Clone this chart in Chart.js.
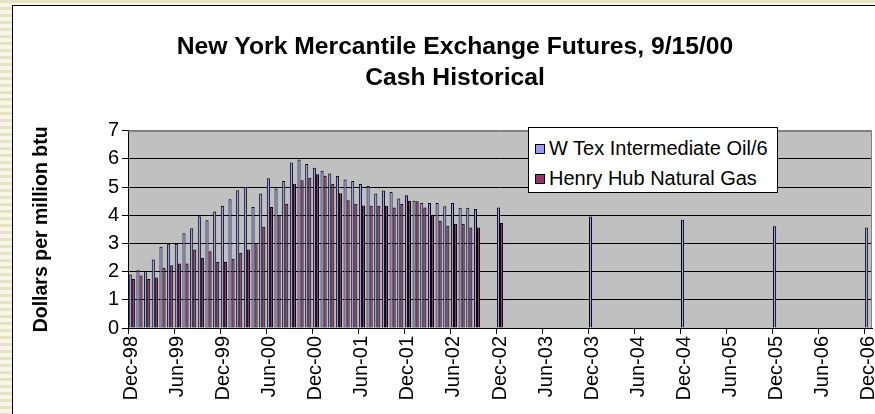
<!DOCTYPE html>
<html>
<head>
<meta charset="utf-8">
<script src="https://cdn.jsdelivr.net/npm/chart.js@4.4.0/dist/chart.umd.min.js"></script>
<style>
  html, body { overflow: hidden; }
  body {
    margin: 0;
    width: 875px;
    height: 414px;
    position: relative;
    background: repeating-linear-gradient(180deg, #e6e2c4 0px, #e6e2c4 3px, #f7f5e8 3px, #f7f5e8 7px);
    font-family: "Liberation Sans", Arial, sans-serif;
  }
  #frame {
    position: absolute;
    left: 12px;
    top: 5px;
    width: 1000px;
    height: 500px;
    border: 1px solid #000;
    background: #fff;
  }
  #wrap {
    position: absolute;
    left: 0;
    top: 0;
    width: 875px;
    height: 414px;
  }
  #legend {
    position: absolute;
    left: 528px;
    top: 127px;
    width: 248px;
    height: 64px;
    border: 1px solid #000;
    background: #fff;
    font-size: 20px;
    color: #000;
  }
  #legend div {
    position: absolute;
    left: 6px;
    height: 24px;
    line-height: 24px;
    white-space: nowrap;
  }
  #legend span {
    display: inline-block;
    width: 8px;
    height: 8px;
    border: 1px solid #000;
    margin-right: 4px;
    vertical-align: 1px;
  }
</style>
</head>
<body>
<div id="frame"></div>
<div id="wrap"><canvas id="myChart" width="875" height="414"></canvas></div>
<div id="legend"></div>
<script>
// monthly categories Dec-98 .. Dec-06
var monthNames = ['Jan', 'Feb', 'Mar', 'Apr', 'May', 'Jun', 'Jul', 'Aug', 'Sep', 'Oct', 'Nov', 'Dec'];
var labels = [];
for (var k = 0; k <= 96; k++) {
    var m = (11 + k) % 12;
    var y = 98 + Math.floor((11 + k) / 12);
    labels.push(monthNames[m] + '-' + String(y % 100).padStart(2, '0'));
}

// monthly cash history, Dec-98 .. Sep-02
var oilMonthly = [1.90, 2.05, 2.02, 2.43, 2.88, 2.99, 2.99, 3.36, 3.54, 3.97, 3.82, 4.13,
    4.33, 4.57, 4.89, 5.01, 4.29, 4.77, 5.31, 4.95, 5.22, 5.87, 5.98, 5.82,
    5.69, 5.58, 5.48, 5.39, 5.27, 5.22, 5.11, 5.04, 4.77, 4.88, 4.83, 4.60,
    4.71, 4.52, 4.44, 4.44, 4.44, 4.32, 4.44, 4.27, 4.27, 4.22];
var gasMonthly = [1.74, 1.86, 1.74, 1.79, 2.14, 2.23, 2.29, 2.29, 2.79, 2.49, 2.72, 2.34,
    2.34, 2.46, 2.67, 2.79, 3.02, 3.59, 4.29, 4.00, 4.41, 5.12, 5.24, 5.33,
    5.46, 5.40, 5.12, 4.78, 4.53, 4.41, 4.35, 4.34, 4.34, 4.34, 4.28, 4.40,
    4.52, 4.50, 4.28, 4.02, 3.81, 3.63, 3.70, 3.70, 3.57, 3.57];

// December futures
var futureMonths = ['Dec-02', 'Dec-03', 'Dec-04', 'Dec-05', 'Dec-06'];
var oilFutures = [4.28, 3.96, 3.84, 3.61, 3.57];
var gasFutures = [3.73, null, null, null, null];

var yTicks = [0, 1, 2, 3, 4, 5, 6, 7];

function buildSeries(monthly, futures) {
    var out = labels.map(function () { return null; });
    monthly.forEach(function (v, i) { out[i] = v; });
    futureMonths.forEach(function (lab, i) { out[labels.indexOf(lab)] = futures[i]; });
    return out;
}

var plotBg = {
    id: 'plotBg',
    beforeDraw: function (chart) {
        var a = chart.chartArea, c = chart.ctx;
        c.save();
        c.fillStyle = '#c0c0c0';
        c.fillRect(a.left, a.top, a.right - a.left, a.bottom - a.top);
        c.restore();
    },
    afterDraw: function (chart) {
        var a = chart.chartArea, c = chart.ctx;
        c.save();
        c.strokeStyle = '#808080';
        c.lineWidth = 1;
        c.beginPath();
        c.moveTo(a.left, Math.round(a.top) + 0.5);
        c.lineTo(Math.round(a.right) - 0.5, Math.round(a.top) + 0.5);
        c.lineTo(Math.round(a.right) - 0.5, a.bottom);
        c.stroke();
        c.restore();
    }
};

var ctx = document.getElementById('myChart').getContext('2d');
var myChart = new Chart(ctx, {
    type: 'bar',
    data: {
        labels: labels,
        datasets: [{
            label: 'W Tex Intermediate Oil/6',
            data: buildSeries(oilMonthly, oilFutures),
            backgroundColor: '#9999ff',
            borderColor: '#000000',
            borderWidth: 1
        }, {
            label: 'Henry Hub Natural Gas',
            data: buildSeries(gasMonthly, gasFutures),
            backgroundColor: '#993366',
            borderColor: '#000000',
            borderWidth: 1
        }]
    },
    plugins: [plotBg],
    options: {
        responsive: false,
        animation: false,
        layout: { padding: { left: 38, right: 3, top: 0, bottom: 0 } },
        datasets: {
            bar: { categoryPercentage: 0.8, barPercentage: 1.0 }
        },
        plugins: {
            legend: { display: false },
            tooltip: { enabled: false },
            title: {
                display: true,
                text: ['New York Mercantile Exchange Futures, 9/15/00', 'Cash Historical'],
                color: '#000',
                font: { family: 'Liberation Sans', size: 24.7, weight: 'bold', lineHeight: 1.25 },
                padding: { top: 32, bottom: 37 }
            }
        },
        scales: {
            x: {
                offset: true,
                grid: {
                    offset: true,
                    drawOnChartArea: false,
                    drawTicks: true,
                    tickLength: 6,
                    color: function (c) { return c.index % 6 === 0 ? '#000' : 'rgba(0,0,0,0)'; }
                },
                border: { color: '#000' },
                ticks: {
                    autoSkip: false,
                    minRotation: 90,
                    maxRotation: 90,
                    padding: 2,
                    color: '#000',
                    font: { family: 'Liberation Sans', size: 20 },
                    callback: function (val, i) { return i % 6 === 0 ? labels[i] : ''; }
                },
                afterFit: function (s) {
                    s.height = 86;
                    s.paddingLeft = 0;
                    s.paddingRight = 0;
                }
            },
            y: {
                min: 0,
                max: 7,
                grid: {
                    color: function (c) { return c.tick && c.tick.value === 7 ? '#808080' : '#000'; },
                    tickColor: '#000',
                    tickLength: 6
                },
                border: { color: '#000' },
                ticks: {
                    stepSize: 1,
                    padding: 3,
                    color: '#000',
                    font: { family: 'Liberation Sans', size: 20 },
                    callback: function (v) { return yTicks.indexOf(v) >= 0 ? v : ''; }
                },
                title: {
                    display: true,
                    text: 'Dollars per million btu',
                    color: '#000',
                    font: { family: 'Liberation Sans', size: 19.5, weight: 'bold' },
                    padding: { top: -8, bottom: 0 }
                },
                afterFit: function (s) { s.width = 90; }
            }
        }
    }
});

// legend box inside the plot
var legendEl = document.getElementById('legend');
myChart.data.datasets.forEach(function (ds, i) {
    var row = document.createElement('div');
    row.style.top = (8 + i * 30) + 'px';
    row.innerHTML = '<span style="background:' + ds.backgroundColor + '"></span>' + ds.label;
    legendEl.appendChild(row);
});
</script>
</body>
</html>
